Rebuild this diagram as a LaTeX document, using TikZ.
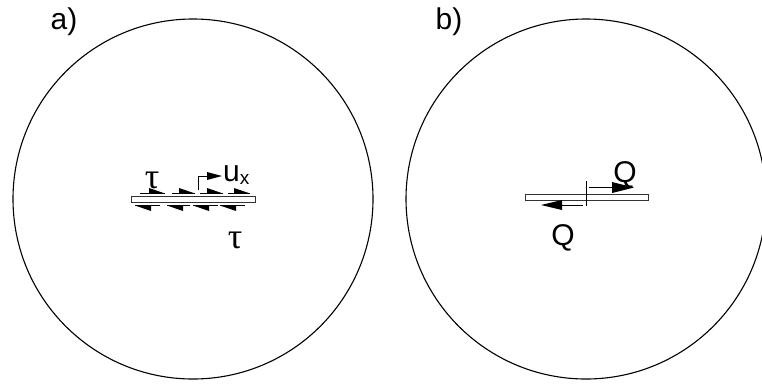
\documentclass[tikz,border=0pt]{standalone}
\usepackage{fontspec}
\setmainfont{Liberation Sans}
\newfontfamily\greekf{Liberation Serif}
\begin{document}
\begin{tikzpicture}[x=1pt,y=-1pt,
  circ/.style={line width=1.1pt},
  crack/.style={draw=black!80,fill=white,line width=0.9pt},
  shaft/.style={line width=0.9pt},
  lbl/.style={inner sep=0pt,font=\fontsize{30}{34}\selectfont},
  taul/.style={inner sep=0pt,font=\greekf\fontsize{36}{40}\selectfont}]
\useasboundingbox (0,0) rectangle (762,383);
\clip (0,0) rectangle (762,383);
% circles
\draw[circ] (193,199) circle (180);
\draw[circ] (586,199) circle (180);
% labels
\node[lbl] (la) at (64,22) {a)};
\node[lbl] (lb) at (449,22) {b)};
% ---- a) crack with shear tractions
\foreach \s/\e in {140/165,172/195,200/223,228/250}{
  \draw[shaft] (\s,193.5) -- (\e,193.5);
  \fill (\e-16,188) -- (\e,193.5) -- (\e-16,194) -- cycle;
}
\foreach \s/\e in {160/135,190/167,218/193,245/220}{
  \draw[shaft] (\s,205.5) -- (\e,205.5);
  \fill (\e+16,211) -- (\e,205.5) -- (\e+16,205) -- cycle;
}
\draw[crack] (131,196.5) rectangle (255,202.5);
\draw[shaft] (198,190) -- (198,176) -- (208,176);
\fill (207,172) -- (222,176) -- (207,180) -- cycle;
\node[lbl,anchor=west] (ux) at (223,175) {u\fontsize{19}{22}\selectfont\raisebox{-3pt}{x}};
\node[taul] (t1) at (152,180) {τ};
\node[taul] (t2) at (235,240) {τ};
% ---- b) crack with forces
\draw[crack] (525,194) rectangle (648,200);
\draw[shaft] (586,181) -- (586,206);
\draw[shaft] (589,187) -- (614,187);
\fill (612,182) -- (634,187.5) -- (612,193) -- cycle;
\draw[shaft] (583,205) -- (560,205);
\fill (562,200) -- (541,205) -- (562,210) -- cycle;
\node[lbl] (q1) at (625,175) {Q};
\node[lbl] (q2) at (563,238) {Q};
\end{tikzpicture}
\end{document}
